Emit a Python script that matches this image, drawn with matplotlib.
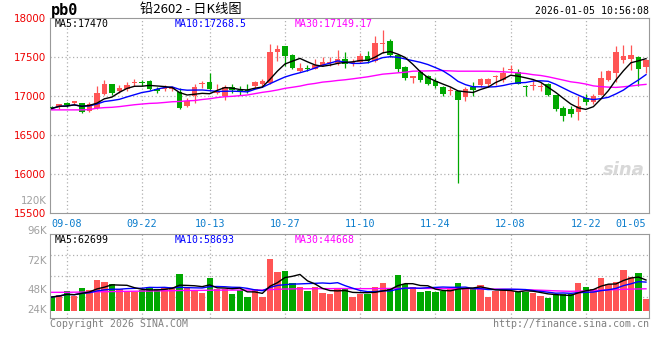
import matplotlib
matplotlib.use("Agg")
import matplotlib.pyplot as plt
import numpy as np
import pandas as pd

W, H = 660, 360

# ---------------- data ----------------
holidays = ["2025-10-01", "2025-10-02", "2025-10-03", "2025-10-06", "2025-10-07",
            "2025-10-08", "2026-01-01", "2026-01-02"]
trade_days = [d for d in pd.bdate_range("2025-09-04", "2026-01-05")
              if d.strftime("%Y-%m-%d") not in holidays]
day_labels = [d.strftime("%m-%d") for d in trade_days]
tick_dates = ["09-08", "09-22", "10-13", "10-27", "11-10", "11-24", "12-08", "12-22", "01-05"]

opens = [16865, 16855, 16910, 16915, 16905, 16810, 16850, 17030, 17150, 17060,
         17095, 17170, 17185, 17190, 17095, 17090, 17090, 17055, 16870, 16995,
         17155, 17175, 17040, 17005, 17120, 17080, 17075, 17125, 17155, 17165,
         17560, 17645, 17530, 17320, 17360, 17350, 17400, 17425, 17425, 17475,
         17425, 17435, 17515, 17445, 17665, 17710, 17520, 17375, 17225, 17310,
         17255, 17195, 17120, 17060, 17070, 16985, 17110, 17135, 17155, 17245,
         17200, 17330, 17303, 17130, 17125, 17118, 17154, 17017, 16846, 16838,
         16791, 16974, 16919, 17017, 17209, 17300, 17457, 17474, 17500, 17372]
highs = [16875, 16900, 16925, 16930, 16915, 16920, 17125, 17200, 17155, 17145,
         17175, 17215, 17210, 17200, 17115, 17135, 17130, 17100, 16970, 17160,
         17190, 17300, 17160, 17145, 17160, 17125, 17160, 17190, 17215, 17670,
         17660, 17645, 17540, 17420, 17400, 17480, 17500, 17500, 17595, 17565,
         17475, 17545, 17580, 17770, 17850, 17735, 17530, 17380, 17260, 17330,
         17275, 17235, 17130, 17120, 17070, 17120, 17175, 17225, 17235, 17275,
         17370, 17400, 17345, 17145, 17210, 17166, 17166, 17017, 16868, 16868,
         16996, 17026, 17030, 17316, 17337, 17640, 17658, 17649, 17508, 17474]
lows = [16830, 16835, 16860, 16880, 16785, 16790, 16835, 17015, 17015, 17035,
        17060, 17125, 17130, 17080, 17040, 17070, 17060, 16830, 16855, 16910,
        17100, 17070, 17030, 16955, 17040, 17015, 17040, 17100, 17125, 17160,
        17445, 17390, 17340, 17310, 17320, 17340, 17380, 17390, 17400, 17360,
        17380, 17425, 17425, 17435, 17550, 17500, 17305, 17210, 17165, 17185,
        17135, 17100, 17000, 17015, 15885, 16940, 17005, 17120, 17125, 17145,
        17185, 17290, 17150, 17005, 17073, 17060, 16996, 16812, 16675, 16731,
        16697, 16889, 16902, 17008, 17188, 17180, 17423, 17337, 17124, 17295]
closes = [16840, 16895, 16880, 16930, 16795, 16895, 17040, 17160, 17040, 17100,
          17145, 17178, 17165, 17090, 17065, 17105, 17115, 16845, 16935, 17115,
          17160, 17090, 17060, 17115, 17080, 17070, 17060, 17175, 17190, 17570,
          17600, 17515, 17360, 17365, 17350, 17400, 17430, 17435, 17475, 17415,
          17435, 17515, 17445, 17685, 17685, 17520, 17350, 17225, 17255, 17205,
          17150, 17125, 17030, 17070, 16955, 17090, 17080, 17220, 17220, 17252,
          17300, 17338, 17160, 17115, 17140, 17124, 17017, 16833, 16740, 16774,
          16876, 16919, 17004, 17230, 17316, 17558, 17508, 17521, 17350, 17457]
volumes = [27900, 32000, 40100, 30600, 46200, 42200, 62600, 58500, 54400, 43500,
           40100, 38100, 42200, 48300, 43500, 45600, 48300, 74800, 45600, 40100,
           36700, 66600, 44200, 43500, 33300, 42800, 28600, 43500, 28600, 105400,
           79600, 80900, 56400, 47600, 40100, 47600, 36000, 34000, 44200, 44200,
           28600, 33300, 33300, 48300, 57100, 43500, 72800, 54400, 47600, 38800,
           40800, 38800, 40800, 43500, 57100, 46900, 43500, 52400, 28600, 40800,
           43500, 40800, 38800, 38800, 36700, 30600, 26500, 32000, 33300, 33300,
           57100, 47600, 44200, 67300, 54400, 59200, 83000, 69400, 77500, 23800]
ma30_price = [16822, 16822, 16822, 16822, 16822, 16826, 16843, 16851, 16855, 16864,
              16876, 16888, 16897, 16905, 16909, 16917, 16926, 16930, 16938, 16942,
              16955, 16965, 16980, 16991, 16996, 17004, 17013, 17030, 17047, 17060,
              17077, 17098, 17112, 17127, 17148, 17161, 17178, 17187, 17199, 17208,
              17220, 17233, 17246, 17263, 17280, 17288, 17297, 17305, 17318, 17320,
              17322, 17324, 17326, 17322, 17318, 17318, 17318, 17318, 17318, 17314,
              17310, 17305, 17297, 17288, 17273, 17263, 17246, 17225, 17204, 17182,
              17170, 17153, 17130, 17120, 17114, 17110, 17118, 17128, 17140, 17149]
ma30_volume = [37500, 37500, 37600, 37800, 38000, 38200, 38500, 38800, 39000, 39300,
               39500, 39700, 40000, 40200, 40400, 40600, 40800, 41200, 41300, 41400,
               41500, 41800, 41900, 42000, 42000, 42100, 42100, 42200, 42200, 43000,
               43600, 44200, 44500, 44700, 44800, 45000, 45000, 45000, 45200, 45200,
               45000, 45000, 45000, 45100, 45300, 45300, 45600, 45600, 45600, 45500,
               45400, 45300, 45200, 45100, 45200, 45000, 44800, 44600, 44200, 44000,
               43800, 43500, 43200, 42800, 42300, 41800, 41200, 40500, 40000, 39600,
               40000, 40500, 41000, 41800, 42400, 43000, 43600, 44000, 44400, 44668]

price_ticks = [15500, 16000, 16500, 17000, 17500, 18000]
vol_labels = ["120K", "96K", "72K", "48K", "24K"]
price_legend = ["MA5:17470", "MA10:17268.5", "MA30:17149.17"]
vol_legend = ["MA5:62699", "MA10:58693", "MA30:44668"]

# ---------------- style ----------------
RED = "#ff5555"
GREEN = "#00a800"
GRID = "#b0b0b0"
FRAME = "#999999"
MA_COLORS = ["#000000", "#0000ff", "#ff00ff"]
MONO = "DejaVu Sans Mono"

def fx(x):
    return x / W

def fy(y):
    return 1 - y / H

fig = plt.figure(figsize=(W / 100, H / 100), dpi=100)
fig.patch.set_facecolor("white")

ax = fig.add_axes([fx(50), fy(213), (649 - 50) / W, (213 - 18) / H])
axv = fig.add_axes([fx(50), fy(318), (649 - 50) / W, (318 - 234) / H])

n = len(closes)
x = np.arange(n)
xlim = (-0.23, 79.4)

o = np.array(opens, float)
c = np.array(closes, float)
hi = np.array(highs, float)
lo = np.array(lows, float)
v = np.array(volumes, float)
up = c >= o
cols = np.where(up, RED, GREEN)

# price panel
ax.vlines(x, lo, hi, colors=cols, lw=0.9, zorder=2)
body = np.maximum(np.abs(c - o), 12)
ax.bar(x, body, bottom=np.minimum(o, c), width=0.74, color=cols, zorder=3, linewidth=0)

cs = pd.Series(c)
ma5 = cs.rolling(5, min_periods=1).mean()
ma10 = cs.rolling(10, min_periods=1).mean()
ax.plot(x, ma30_price, color=MA_COLORS[2], lw=1.0, zorder=4)
ax.plot(x, ma10, color=MA_COLORS[1], lw=1.0, zorder=5)
ax.plot(x, ma5, color=MA_COLORS[0], lw=1.0, zorder=6)

ax.set_xlim(*xlim)
ax.set_ylim(15500, 18000)
ax.set_yticks(price_ticks)
ax.set_yticklabels([str(t) for t in price_ticks], color="#ee0000",
                   fontsize=7.4, fontfamily="DejaVu Sans")
tick_pos = [day_labels.index(d) for d in tick_dates]
ax.set_xticks(tick_pos)
ax.set_xticklabels(tick_dates, color="#0a7ccc", fontsize=7.3, fontfamily=MONO)
ax.get_xticklabels()[-1].set_horizontalalignment("right")
ax.get_xticklabels()[-1].set_x(tick_pos[-1] + 0.4)
ax.tick_params(length=0, pad=3)
ax.tick_params(axis="x", pad=4)
for s in ax.spines.values():
    s.set_color(FRAME)
    s.set_linewidth(0.8)
for t in price_ticks[1:-1]:
    ax.axhline(t, color=GRID, lw=0.9, ls=(0, (1, 2)), zorder=1)
for p in tick_pos[:-1]:
    ax.axvline(p, color=GRID, lw=0.9, ls=(0, (1, 2)), zorder=1)

# volume panel
axv.bar(x, v, width=0.85, color=cols, linewidth=0, zorder=2)
vs = pd.Series(v)
axv.plot(x, ma30_volume, color=MA_COLORS[2], lw=1.0, zorder=3)
axv.plot(x, vs.rolling(10, min_periods=1).mean(), color=MA_COLORS[1], lw=1.0, zorder=4)
axv.plot(x, vs.rolling(5, min_periods=1).mean(), color=MA_COLORS[0], lw=1.0, zorder=5)
axv.set_xlim(*xlim)
axv.set_ylim(-14900, 156500)
axv.set_xticks([])
axv.set_yticks([])
for s in axv.spines.values():
    s.set_color(FRAME)
    s.set_linewidth(0.8)
for f in (0.25, 0.5, 0.75):
    axv.plot([0, 1], [f, f], transform=axv.transAxes, color=GRID, lw=0.9,
             ls=(0, (1, 2)), zorder=1)
for p in tick_pos[:-1]:
    axv.axvline(p, color=GRID, lw=0.9, ls=(0, (1, 2)), zorder=1)

# legends
for txt, xp, col in zip(price_legend, (55, 175, 295), MA_COLORS):
    fig.text(fx(xp), fy(24), txt, color=col, fontsize=7.1, fontfamily=MONO, va="center")
for txt, xp, col in zip(vol_legend, (55, 175, 295), MA_COLORS):
    fig.text(fx(xp), fy(240), txt, color=col, fontsize=7.1, fontfamily=MONO, va="center")

# volume scale labels (as drawn by the source)
for txt, yp in zip(vol_labels, (201, 231, 261, 290, 310)):
    fig.text(fx(47), fy(yp), txt, color="#a0a0a0", fontsize=7.4,
             fontfamily="DejaVu Sans", ha="right", va="center")

# header
fig.text(fx(51), fy(11), "pb0", fontsize=11, fontweight="bold",
         fontfamily=MONO, va="center")
fig.text(fx(140), fy(10), "铅2602 - 日K线图", fontsize=9.5,
         fontfamily=["Noto Sans CJK SC", "DejaVu Sans"], va="center")
fig.text(fx(649), fy(11), "2026-01-05 10:56:08", fontsize=7.1, fontfamily=MONO,
         ha="right", va="center")

# footer
fig.text(fx(50), fy(324), "Copyright 2026 SINA.COM", fontsize=7.1, fontfamily=MONO,
         color="#808080", va="center")
fig.text(fx(649), fy(324), "http://finance.sina.com.cn", fontsize=7.2, fontfamily=MONO,
         color="#808080", ha="right", va="center")

# watermark
fig.text(fx(645), fy(170), "sina", fontsize=13, fontweight="bold", style="italic",
         color="#d8d8d8", ha="right", va="center", zorder=0)

fig.savefig("out.png", dpi=100)
